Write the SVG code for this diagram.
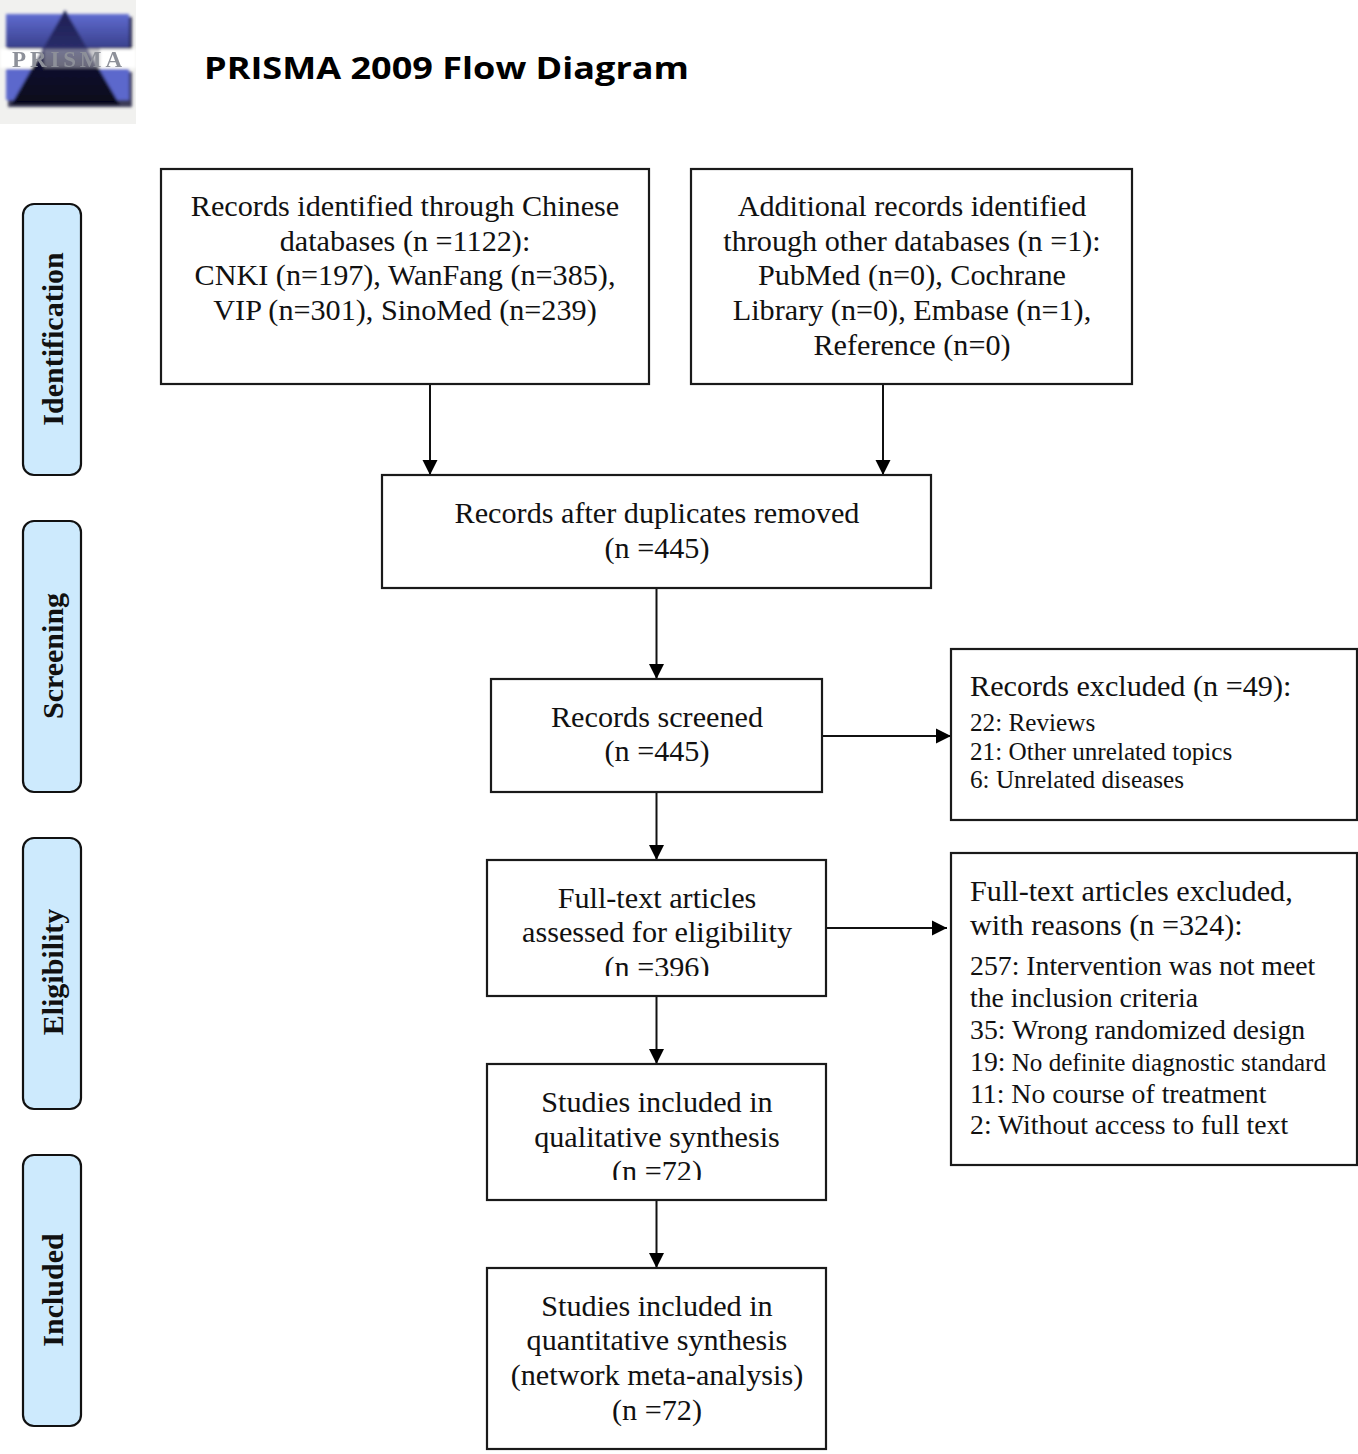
<svg xmlns="http://www.w3.org/2000/svg" width="1358" height="1454" viewBox="0 0 1358 1454">
<style>
text{font-family:"Liberation Serif","Times New Roman",serif;fill:#111}
.b{fill:#fff;stroke:#1a1a1a;stroke-width:2.2}
.t{font-size:30.2px;text-anchor:middle}
.l{font-size:30.2px}
.s{font-size:25.2px}
.m{font-size:27.75px}
.side{fill:#cdeafd;stroke:#111;stroke-width:2.2}
.st{font-size:30px;font-weight:bold;text-anchor:middle}
.c{stroke:#111;stroke-width:2;fill:none;marker-end:url(#a)}
</style>
<defs>
<marker id="a" markerUnits="userSpaceOnUse" markerWidth="16" markerHeight="16" refX="15" refY="8" orient="auto"><path d="M0 .5L15 8L0 15.500Z" fill="#000"/></marker>
<linearGradient id="g1" x1="0" y1="0" x2="0" y2="1"><stop offset="0" stop-color="#5f6bd0"/><stop offset="1" stop-color="#39408c"/></linearGradient>
<linearGradient id="g2" x1="0" y1="0" x2="0" y2="1"><stop offset="0" stop-color="#1d1f52"/><stop offset="0.42" stop-color="#2a2d6a"/><stop offset="0.6" stop-color="#10102e"/><stop offset="1" stop-color="#05051a"/></linearGradient>
<filter id="bl" x="-10%" y="-10%" width="120%" height="120%"><feGaussianBlur stdDeviation="1.5"/></filter>
<filter id="bl2" x="-5%" y="-20%" width="110%" height="140%"><feGaussianBlur stdDeviation="0.5"/></filter>
<clipPath id="c1"><rect x="480" y="860" width="360" height="116"/></clipPath>
<clipPath id="c2"><rect x="480" y="1064" width="360" height="116"/></clipPath>
</defs>
<rect width="1358" height="1454" fill="#fff"/>
<g id="logo">
<rect x="0" y="0" width="136" height="124" fill="#f1f1ef"/>
<g filter="url(#bl)">
<rect x="8" y="17" width="124" height="35" fill="#2a2a50"/>
<rect x="6" y="14" width="123" height="34" fill="url(#g1)"/>
<rect x="0" y="49" width="136" height="19" fill="#fff"/>
<rect x="8" y="72" width="124" height="35" fill="#3a3a58"/>
<rect x="6" y="69" width="123" height="31" fill="#5c68cc"/>
<path d="M65 10L120 105H11Z" fill="url(#g2)"/>
<rect x="44" y="49" width="56" height="19" fill="#a6a6ae" opacity=".6"/>
</g>
<text x="12" y="67" font-size="23" textLength="110" lengthAdjust="spacing" filter="url(#bl2)" style="fill:#8d9099;font-weight:bold">PRISMA</text>
</g>
<text id="title" x="204" y="79" textLength="485" lengthAdjust="spacingAndGlyphs" style="font-family:'Open Sans','Liberation Sans',sans-serif;font-weight:700;font-size:31px;fill:#000">PRISMA 2009 Flow Diagram</text>
<g id="connectors">
<path class="c" d="M430 384V475"/>
<path class="c" d="M883 384V475"/>
<path class="c" d="M656.500 588V679"/>
<path class="c" d="M656.500 792V860"/>
<path class="c" d="M656.500 996V1064"/>
<path class="c" d="M656.500 1200V1268"/>
<path class="c" d="M822 736H951"/>
<path class="c" d="M827 928H947"/>
</g>
<g id="side-identification"><rect class="side" x="23" y="204" width="58" height="271" rx="11"/><text class="st" transform="translate(63 339) rotate(-90)">Identification</text></g>
<g id="side-screening"><rect class="side" x="23" y="521" width="58" height="271" rx="11"/><text class="st" transform="translate(63 656) rotate(-90)">Screening</text></g>
<g id="side-eligibility"><rect class="side" x="23" y="838" width="58" height="271" rx="11"/><text class="st" transform="translate(63 972) rotate(-90)">Eligibility</text></g>
<g id="side-included"><rect class="side" x="23" y="1155" width="58" height="271" rx="11"/><text class="st" transform="translate(63 1290) rotate(-90)">Included</text></g>
<g id="n1"><rect class="b" x="161" y="169" width="488" height="215"/>
<text class="t" x="405" y="216">Records identified through Chinese</text><text class="t" x="405" y="251">databases (n =1122):</text><text class="t" x="405" y="285">CNKI (n=197), WanFang (n=385),</text><text class="t" x="405" y="320">VIP (n=301), SinoMed (n=239)</text></g>
<g id="n2"><rect class="b" x="691" y="169" width="441" height="215"/>
<text class="t" x="912" y="216">Additional records identified</text><text class="t" x="912" y="251">through other databases (n =1):</text><text class="t" x="912" y="285">PubMed (n=0), Cochrane</text><text class="t" x="912" y="320">Library (n=0), Embase (n=1),</text><text class="t" x="912" y="355">Reference (n=0)</text></g>
<g id="n3"><rect class="b" x="382" y="475" width="549" height="113"/>
<text class="t" x="657" y="523">Records after duplicates removed</text><text class="t" x="657" y="558">(n =445)</text></g>
<g id="n4"><rect class="b" x="491" y="679" width="331" height="113"/>
<text class="t" x="657" y="727">Records screened</text><text class="t" x="657" y="761">(n =445)</text></g>
<g id="n5"><rect class="b" x="951" y="649" width="406" height="171"/>
<text class="l" x="970" y="696">Records excluded (n =49):</text><text class="s" x="970" y="731">22: Reviews</text><text class="s" x="970" y="760">21: Other unrelated topics</text><text class="s" x="970" y="788">6: Unrelated diseases</text></g>
<g id="n6"><rect class="b" x="487" y="860" width="339" height="136"/>
<text class="t" x="657" y="908">Full-text articles</text><text class="t" x="657" y="942">assessed for eligibility</text><text class="t" x="657" y="977" clip-path="url(#c1)">(n =396)</text></g>
<g id="n7"><rect class="b" x="951" y="853" width="406" height="312"/>
<text class="l" x="970" y="901">Full-text articles excluded,</text><text class="l" x="970" y="935">with reasons (n =324):</text><text class="m" x="970" y="975">257: Intervention was not meet</text><text class="m" x="970" y="1007">the inclusion criteria</text><text class="m" x="970" y="1039">35: Wrong randomized design</text><text class="m" x="970" y="1071">19:<tspan style="font-size:25.100px"> No definite diagnostic standard</tspan></text><text class="m" x="970" y="1103">11: No course of treatment</text><text class="m" x="970" y="1134">2: Without access to full text</text></g>
<g id="n8"><rect class="b" x="487" y="1064" width="339" height="136"/>
<text class="t" x="657" y="1112">Studies included in</text><text class="t" x="657" y="1147">qualitative synthesis</text><text class="t" x="657" y="1181" clip-path="url(#c2)">(n =72)</text></g>
<g id="n9"><rect class="b" x="487" y="1268" width="339" height="181"/>
<text class="t" x="657" y="1316">Studies included in</text><text class="t" x="657" y="1350">quantitative synthesis</text><text class="t" x="657" y="1385">(network meta-analysis)</text><text class="t" x="657" y="1420">(n =72)</text></g>
</svg>
